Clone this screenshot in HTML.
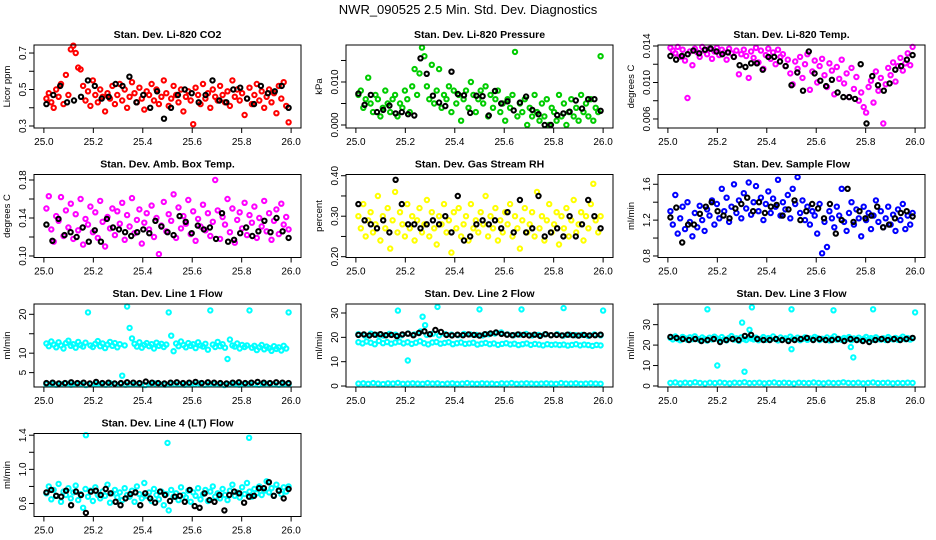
<!DOCTYPE html>
<html><head><meta charset="utf-8"><style>
body{margin:0;background:#fff;}
svg{display:block;font-family:"Liberation Sans",Arial,sans-serif;}
</style></head><body>
<svg id="chart" width="936" height="540" viewBox="0 0 936 540" xmlns="http://www.w3.org/2000/svg">
<rect width="936" height="540" fill="#fff"/>
<text x="468" y="14" text-anchor="middle" font-size="13">NWR_090525  2.5 Min. Std. Dev. Diagnostics</text>
</svg>
<script>
const xTicks=[25.0,25.2,25.4,25.6,25.8,26.0];
const xTickLabels=["25.0","25.2","25.4","25.6","25.8","26.0"];
// panel 1 CO2
const co2Main=[0.45,0.48,0.43,0.40,0.50,0.46,0.53,0.42,0.58,0.47,0.72,0.74,0.70,0.62,0.61,0.52,0.44,0.49,0.41,0.55,0.47,0.43,0.50,0.46,0.38,0.48,0.45,0.52,0.42,0.47,0.53,0.44,0.50,0.40,0.46,0.54,0.48,0.43,0.51,0.45,0.39,0.49,0.47,0.53,0.44,0.50,0.42,0.46,0.55,0.48,0.41,0.45,0.52,0.47,0.43,0.50,0.38,0.46,0.49,0.44,0.31,0.51,0.47,0.42,0.53,0.45,0.48,0.40,0.50,0.46,0.44,0.52,0.47,0.43,0.49,0.41,0.55,0.46,0.50,0.44,0.48,0.36,0.45,0.51,0.42,0.47,0.53,0.44,0.49,0.40,0.46,0.50,0.43,0.48,0.37,0.52,0.45,0.54,0.41,0.32];
const co2Black=[0.42,0.47,0.52,0.43,0.44,0.46,0.55,0.52,0.45,0.46,0.53,0.52,0.57,0.43,0.47,0.40,0.49,0.34,0.40,0.47,0.50,0.48,0.43,0.47,0.55,0.44,0.43,0.50,0.51,0.45,0.42,0.52,0.48,0.49,0.52,0.40];
// panel 2 pressure
const presMain=[.007,.008,.004,.006,.011,.005,.003,.007,.006,.002,.004,.008,.005,.003,.006,.007,.002,.005,.004,.008,.006,.003,.009,.013,.007,.012,.018,.016,.009,.006,.014,.005,.008,.013,.004,.007,.006,.009,.003,.008,.005,.007,.001,.006,.008,.004,.010,.007,.003,.006,.008,.005,.009,.002,.007,.004,.006,.008,.003,.005,.001,.006,.004,.007,.017,.002,.005,.003,.006,.000,.004,.002,.007,.003,.001,.005,.002,.006,.000,.004,.003,.001,.007,.002,.005,.000,.003,.006,.002,.004,.001,.007,.003,.005,.002,.006,.001,.004,.003,.016];
const presBlack=[.0073,.0047,.0070,.0030,.0035,.0045,.0027,.0030,.0025,.0022,.0155,.0119,.0068,.0052,.0044,.0124,.0072,.0069,.0028,.0068,.0067,.0022,.0079,.0050,.0055,.0034,.0052,.0066,.0035,.0025,.0000,.0000,.0023,.0027,.0031,.0057,.0038,.0060,.0060,.0033];
// panel 3 Li-820 temp
const tempMain=[.0138,.0135,.0132,.0139,.0128,.0136,.0124,.0083,.0134,.0119,.0137,.0133,.0128,.0139,.0135,.0131,.0137,.0126,.0134,.0138,.0130,.0136,.0133,.0125,.0137,.0132,.0128,.0135,.0109,.0131,.0136,.0129,.0105,.0134,.0127,.0138,.0122,.0135,.0115,.0130,.0137,.0126,.0133,.0120,.0136,.0128,.0131,.0118,.0125,.0110,.0098,.0123,.0115,.0128,.0105,.0120,.0131,.0092,.0112,.0124,.0100,.0118,.0126,.0108,.0095,.0121,.0113,.0087,.0117,.0104,.0125,.0099,.0110,.0084,.0116,.0093,.0106,.0080,.0089,.0073,.0067,.0095,.0102,.0078,.0112,.0091,.0105,.0055,.0098,.0116,.0108,.0122,.0101,.0118,.0127,.0113,.0121,.0132,.0119,.0139];
const tempBlack=[.0129,.0125,.0129,.0131,.0135,.0132,.0136,.0137,.0134,.0131,.0133,.0128,.0119,.0117,.0121,.0121,.0114,.0128,.0128,.0123,.0118,.0097,.0111,.0091,.0134,.0110,.0102,.0096,.0103,.0089,.0084,.0084,.0082,.0120,.0055,.0107,.0097,.0091,.0099,.0114,.0118,.0125,.0130];
// panel 4 amb box temp
const ambMain=[.150,.163,.128,.115,.142,.137,.162,.121,.148,.130,.155,.118,.144,.127,.160,.112,.139,.133,.152,.125,.146,.119,.158,.136,.110,.141,.129,.150,.122,.147,.134,.156,.117,.143,.131,.161,.124,.138,.149,.113,.135,.145,.128,.153,.120,.140,.102,.132,.157,.126,.144,.137,.165,.119,.151,.129,.142,.134,.159,.123,.147,.116,.139,.131,.154,.127,.145,.121,.136,.180,.148,.118,.141,.133,.160,.125,.150,.114,.138,.146,.129,.156,.122,.143,.135,.152,.119,.140,.131,.158,.126,.145,.117,.137,.149,.123,.155,.133,.141,.128];
const ambBlack=[.133,.116,.139,.122,.125,.120,.130,.115,.127,.115,.139,.130,.128,.125,.121,.125,.128,.124,.137,.131,.125,.122,.142,.136,.124,.132,.128,.130,.118,.145,.115,.117,.124,.130,.121,.126,.137,.125,.140,.126,.119];
// panel 5 RH
const rhMain=[.30,.27,.33,.25,.29,.31,.26,.28,.35,.24,.30,.27,.32,.22,.29,.36,.26,.31,.28,.25,.33,.27,.30,.24,.29,.32,.26,.28,.34,.25,.31,.27,.23,.30,.28,.33,.26,.29,.21,.31,.27,.32,.25,.28,.30,.24,.33,.27,.29,.26,.31,.28,.35,.25,.30,.27,.32,.24,.29,.26,.31,.28,.33,.25,.30,.27,.22,.29,.32,.26,.28,.31,.25,.36,.27,.30,.24,.29,.33,.26,.28,.31,.23,.30,.27,.32,.25,.29,.34,.26,.28,.31,.24,.30,.27,.33,.38,.29,.26,.30];
const rhBlack=[.33,.29,.28,.27,.29,.26,.39,.33,.28,.28,.27,.28,.29,.28,.30,.26,.35,.24,.25,.28,.29,.28,.29,.27,.31,.26,.34,.26,.27,.35,.25,.26,.27,.25,.30,.25,.28,.34,.30,.27];
// panel 6 sample flow
const sfMain=[1.30,1.15,1.48,1.05,1.22,1.35,1.10,1.40,1.18,1.02,1.28,1.12,1.36,1.20,1.08,1.32,1.25,1.42,1.15,1.38,1.22,1.55,1.30,1.45,1.18,1.35,1.60,1.28,1.42,1.22,1.50,1.33,1.62,1.26,1.40,1.58,1.30,1.45,1.20,1.38,1.52,1.28,1.44,1.35,1.65,1.25,1.40,1.32,1.48,1.22,1.55,1.38,1.68,1.28,1.42,1.20,1.35,1.15,1.30,1.25,1.05,1.38,0.83,1.18,0.90,1.30,1.22,1.12,1.35,1.25,1.55,1.18,1.08,1.28,1.40,1.15,1.32,1.22,1.02,1.35,1.20,1.28,1.10,1.25,1.42,1.18,1.30,1.12,1.22,1.35,1.15,1.26,1.08,1.32,1.20,1.38,1.10,1.25,1.15,1.28];
const sfBlack=[1.23,1.34,0.95,1.15,1.15,1.27,1.35,1.40,1.30,1.25,1.22,1.33,1.38,1.45,1.30,1.40,1.28,1.35,1.37,1.25,1.32,1.42,1.20,1.30,1.38,1.33,1.22,1.38,1.05,1.20,1.55,1.18,1.30,1.22,1.25,1.35,1.12,1.15,1.22,1.28,1.30,1.24];
// panel 7 line 1
const l1Main=[12.5,11.8,13.0,12.2,11.5,12.8,12.0,11.2,12.6,13.2,11.9,12.3,11.4,12.9,12.1,11.7,12.7,20.5,12.0,11.6,12.4,13.1,11.8,12.5,11.3,12.2,12.9,11.9,12.6,11.5,12.3,4.2,12.0,22.0,16.5,13.8,12.4,11.7,12.8,11.4,12.1,12.6,11.8,12.3,11.2,12.7,11.9,12.4,11.6,12.2,20.5,14.5,10.5,12.5,11.8,13.0,12.1,11.5,12.6,11.9,12.3,11.3,12.8,12.0,11.7,12.4,10.9,21.0,12.2,11.6,12.9,11.8,12.3,11.4,8.5,13.5,12.0,11.7,12.5,11.2,12.1,11.6,12.0,21.0,11.4,11.9,10.8,11.5,12.1,11.0,11.7,11.3,10.6,11.8,11.1,11.5,10.7,11.9,11.2,20.5];
const l1Low=[2.0,2.1,1.9,2.0,2.2,1.9,2.0,2.1,1.8,2.0,2.1,2.0,1.9,2.2,2.0,2.1,1.9,2.0,2.0,2.1,1.8,2.0,2.2,2.0,1.9,2.1,2.0,2.0,1.9,2.1,2.0,2.2,1.9,2.0,2.1,2.0,1.8,2.0,2.1,1.9,2.0,2.1,2.0,1.9,2.0,2.2,2.0,1.9,2.1,2.0];
const l1Black=[2.3,2.4,2.2,2.3,2.5,2.3,2.4,2.2,2.6,2.3,2.4,2.2,2.3,2.5,2.4,2.3,2.7,2.4,2.3,2.2,2.4,2.5,2.3,2.4,2.6,2.3,2.5,2.4,2.3,2.2,2.4,2.5,2.3,2.4,2.6,2.4,2.3,2.5,2.4,2.3];
// panel 8 line 2
const l2Upper=[18.0,17.5,18.3,17.8,17.2,18.5,17.6,18.1,17.4,17.9,18.2,17.5,18.0,17.3,17.8,18.4,17.6,17.1,17.9,18.1,17.4,17.7,18.0,17.2,17.6,17.9,17.3,17.5,17.8,17.0,17.4,17.7,17.2,17.5,16.9,17.3,17.6,17.1,17.4,16.8,17.2,17.5,16.9,17.3,17.0,16.7,17.2,16.9,17.1,16.8,17.0,16.6,16.9,17.2,16.7,17.0,16.8,16.5,16.9,16.7];
const l2Mid=[21.3,20.8,21.5,21.0,20.7,21.4,21.1,20.9,21.6,21.2,22.4,21.0,21.5,20.8,21.3,21.1,20.9,21.4,21.2,21.0,20.8,21.3,21.6,22.0,21.2,20.9,21.1,21.4,20.8,21.0,21.2,20.9,21.3,20.7,21.1,20.9,21.0,20.6,21.2,20.8];
const l2Low=[1.0,1.1,0.9,1.2,1.0,0.8,1.1,1.0,1.3,0.9,1.0,1.1,1.0,0.9,1.2,1.0,1.1,0.8,1.0,1.1,0.9,1.0,1.2,1.0,0.9,1.1,1.0,1.0,0.8,1.1,1.0,1.2,0.9,1.0,1.1,1.0,0.9,1.0,1.1,1.0,0.9,1.2,1.0,1.0,1.1,0.9,1.0,1.1,1.0,0.9];
const l2OutX=[25.17,25.21,25.27,25.28,25.33,25.50,25.67,25.84,26.00];
const l2OutY=[31.0,10.5,28.5,25.0,32.5,31.5,31.5,32.0,31.0];
const l2Black=[21.0,21.2,20.8,21.1,21.3,20.9,21.0,20.5,21.2,21.5,20.9,21.8,22.5,21.3,23.0,22.2,21.0,20.8,21.1,20.9,21.2,21.0,20.7,21.3,21.6,22.0,21.4,21.1,20.9,21.2,21.0,20.8,21.1,20.6,21.3,20.9,21.0,20.8,21.1,20.9,20.7,21.0,20.8,20.9,21.1];
// panel 9 line 3
const l3Main=[23.5,22.8,24.2,23.0,22.4,24.0,23.3,22.6,23.8,22.9,24.3,23.1,22.5,23.7,23.0,22.2,23.6,22.8,24.1,23.2,22.6,23.9,22.9,22.3,23.5,24.4,22.7,23.3,22.1,23.8,23.0,22.5,24.0,23.2,22.8,23.6,22.4,23.1,23.9,22.6,23.4,22.9,24.2,23.0,22.3,23.7,22.8,23.3,22.5,24.1,23.1,22.7,23.6,22.4,23.0,23.8,22.6,23.2,22.9,24.0,23.4,22.5,23.1,22.8,23.7,22.3,23.3,24.3,22.7,23.0,22.6,23.5,22.9,23.9,22.4,23.2,22.8,23.6,22.5,23.1,24.0,22.9,23.4,22.6,23.8,23.0,22.7,23.3,22.5,23.9,23.1,22.8,23.5,22.6,23.2,24.1,22.9,23.4,22.7,23.3];
const l3Low=[1.5,1.7,1.3,1.6,1.4,1.8,1.5,1.2,1.6,1.4,1.7,1.5,1.3,1.6,1.5,1.8,1.4,1.5,1.6,1.3,1.5,1.7,1.4,1.6,1.5,1.2,1.6,1.5,1.4,1.7,1.5,1.3,1.6,1.4,1.5,1.8,1.5,1.4,1.6,1.3,1.5,1.7,1.4,1.5,1.6,1.3,1.5,1.4,1.6,1.5];
const l3OutX=[25.16,25.20,25.30,25.31,25.33,25.34,25.50,25.50,25.67,25.74,25.75,25.83,26.00];
const l3OutY=[37.5,10.0,31.0,7.0,27.5,38.5,18.0,37.5,37.0,19.0,14.0,37.5,36.0];
const l3Black=[24,23.5,23,22.5,23,22,22.5,23,21.5,22.5,23,22.5,24.5,25,23,22.5,22.5,23,22.5,22,22.5,23,23.5,22.5,23,22.5,22.5,23,22,23,22.5,22,21.5,22.5,23,22.5,23,22.5,23,23.5];
// panel 10 line 4
const l4Main=[.72,.80,.65,.76,.69,.83,.62,.74,.70,.78,.66,.73,.81,.64,.71,.55,.77,.68,.75,.63,.79,.70,.66,.74,.69,.82,.61,.72,.76,.67,.73,.64,.78,.70,.68,.75,.62,.80,.71,.66,.84,.69,.73,.63,.77,.70,.65,.74,.58,.71,.52,.76,.68,.72,.64,.79,.70,.67,.75,.62,.73,.69,.78,.65,.71,.76,.63,.74,.80,.68,.72,.66,.77,.70,.64,.75,.82,.69,.73,.67,.79,.71,.84,.74,.68,.77,.72,.80,.70,.75,.86,.73,.78,.69,.82,.76,.71,.79,.74,.80];
const l4OutX=[25.17,25.50,25.83];
const l4OutY=[1.40,1.31,1.37];
const l4Black=[.73,.76,.69,.68,.75,.58,.74,.70,.49,.74,.75,.70,.77,.72,.62,.58,.66,.71,.73,.58,.72,.66,.61,.74,.70,.63,.68,.69,.62,.76,.57,.55,.72,.64,.62,.70,.52,.70,.74,.72,.61,.68,.69,.78,.78,.85,.69,.75,.66,.77];

const NS="http://www.w3.org/2000/svg";
const svg=document.getElementById('chart');
function mk(tag,attrs,parent){const e=document.createElementNS(NS,tag);for(const k in attrs)e.setAttribute(k,attrs[k]);(parent||svg).appendChild(e);return e;}

const panels=[
 {title:"Stan. Dev. Li-820 CO2",ylab:"Licor ppm",ylim:[0.289,0.744],ticks:[0.3,0.4,0.5,0.6,0.7],labs:["0.3","","0.5","","0.7"],series:[[co2Main,"#ff0000"],[co2Black,"#000"]]},
 {title:"Stan. Dev. Li-820 Pressure",ylab:"kPa",ylim:[-0.0007,0.0186],ticks:[0,0.005,0.010,0.015],labs:["0.000","","0.010",""],series:[[presMain,"#00cc00"],[presBlack,"#000"]]},
 {title:"Stan. Dev. Li-820 Temp.",ylab:"degrees C",ylim:[0.00501,0.01411],ticks:[0.006,0.008,0.010,0.012,0.014],labs:["0.006","","0.010","","0.014"],series:[[tempMain,"#ff00ff"],[tempBlack,"#000"]]},
 {title:"Stan. Dev. Amb. Box Temp.",ylab:"degrees C",ylim:[0.0984,0.1858],ticks:[0.10,0.12,0.14,0.16,0.18],labs:["0.10","","0.14","","0.18"],series:[[ambMain,"#ff00ff"],[ambBlack,"#000"]]},
 {title:"Stan. Dev. Gas Stream RH",ylab:"percent",ylim:[0.198,0.403],ticks:[0.20,0.25,0.30,0.35,0.40],labs:["0.20","","0.30","","0.40"],series:[[rhMain,"#ffff00"],[rhBlack,"#000"]]},
 {title:"Stan. Dev. Sample Flow",ylab:"ml/min",ylim:[0.783,1.709],ticks:[0.8,1.0,1.2,1.4,1.6],labs:["0.8","","1.2","","1.6"],series:[[sfMain,"#0000ff"],[sfBlack,"#000"]]},
 {title:"Stan. Dev. Line 1 Flow",ylab:"ml/min",ylim:[1.3,22.65],ticks:[5,10,15,20],labs:["5","10","","20"],series:[[l1Main,"#00ffff"],[l1Low,"#00ffff"],[l1Black,"#000"]]},
 {title:"Stan. Dev. Line 2 Flow",ylab:"ml/min",ylim:[-0.4,33.7],ticks:[0,10,20,30],labs:["0","10","20","30"],series:[[l2Upper,"#00ffff"],[l2Mid,"#00ffff"],[l2Low,"#00ffff"],[l2Black,"#000"]],outX:l2OutX,outY:l2OutY},
 {title:"Stan. Dev. Line 3 Flow",ylab:"ml/min",ylim:[-0.5,40.1],ticks:[0,10,20,30,40],labs:["0","10","20","30",""],series:[[l3Main,"#00ffff"],[l3Low,"#00ffff"],[l3Black,"#000"]],outX:l3OutX,outY:l3OutY},
 {title:"Stan. Dev. Line 4 (LT) Flow",ylab:"ml/min",ylim:[0.448,1.42],ticks:[0.6,0.8,1.0,1.2,1.4],labs:["0.6","","1.0","","1.4"],series:[[l4Main,"#00ffff"],[l4Black,"#000"]],outX:l4OutX,outY:l4OutY}
];

panels.forEach((p,idx)=>{
 const col=idx%3,row=Math.floor(idx/3);
 const L=34+col*312,R=L+267,T=45+row*129.5,B=T+83;
 const g=mk('g',{});
 
 
 const xs=v=>L+(v-24.96)/1.08*267;
 const ys=v=>B-(v-p.ylim[0])/(p.ylim[1]-p.ylim[0])*83;
 const t=mk('text',{x:(L+R)/2,y:T-7,'text-anchor':'middle','font-size':'10.5','font-weight':'bold'},g);
 t.textContent=p.title;
 
 
 const pts=mk('g',{fill:'none','stroke-width':'2'},g);
 
 
 function dot(x,y,c){const e=mk('circle',{cx:x.toFixed(1),cy:y.toFixed(1),r:'2.2',stroke:c},pts);
  
  }
 p.series.forEach(([arr,c],si)=>{
  const n=arr.length;
  arr.forEach((v,i)=>{dot(xs(25.01+i*0.98/(n-1)),ys(v),c);});
  if(si===0&&p.outX){p.outX.forEach((xv,j)=>dot(xs(xv),ys(p.outY[j]),c));}
 });
 const box=mk('rect',{x:L,y:T,width:R-L,height:B-T,fill:'none',stroke:'#000','stroke-width':'1'},g);
 
 
 const xa=mk('g',{},g);
 
 
 mk('line',{x1:xs(25),x2:xs(26),y1:B,y2:B,stroke:'#000'},xa);
 xTicks.forEach((v,i)=>{
  mk('line',{x1:xs(v),x2:xs(v),y1:B,y2:B+5,stroke:'#000'},xa);
  const tl=mk('text',{x:xs(v),y:B+17,'text-anchor':'middle','font-size':'10'},xa);
  tl.textContent=xTickLabels[i];
  
  
 });
 const ya=mk('g',{},g);
 
 
 mk('line',{x1:L,x2:L,y1:ys(p.ticks[0]),y2:ys(p.ticks[p.ticks.length-1]),stroke:'#000'},ya);
 p.ticks.forEach((v,i)=>{
  const y=ys(v);
  mk('line',{x1:L-5,x2:L,y1:y,y2:y,stroke:'#000'},ya);
  if(p.labs[i]){
   const tl=mk('text',{x:0,y:0,'text-anchor':'middle','font-size':'10',transform:`translate(${L-8},${y}) rotate(-90)`},ya);
   tl.textContent=p.labs[i];
   
   
  }
 });
 const yl=mk('text',{x:0,y:0,'text-anchor':'middle','font-size':'9.5',transform:`translate(${L-24},${(T+B)/2}) rotate(-90)`},g);
 yl.textContent=p.ylab;
 
 
});
</script>
</body></html>
